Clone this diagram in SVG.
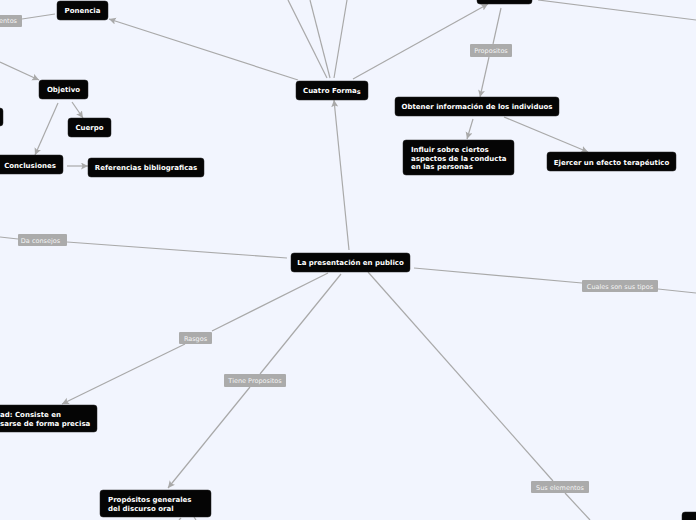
<svg xmlns="http://www.w3.org/2000/svg" width="696" height="520" viewBox="0 0 696 520">
<defs>
<style>
.bg{fill:#f2f5fe}
.n rect{fill:#050505;stroke:#222;stroke-width:0.5}
.n text{font-family:"DejaVu Sans",Verdana,sans-serif;font-size:7px;font-weight:bold;fill:#ffffff}
.c{text-anchor:middle}
.lb rect{fill:#ababab}
.lb text{font-family:"DejaVu Sans",Verdana,sans-serif;font-size:6.5px;fill:#f4f4f4;text-anchor:middle}
.e line{stroke:#a9a9a9;stroke-width:1.2;fill:none}
.a{marker-end:url(#ah)}
</style>
<marker id="ah" markerWidth="8" markerHeight="8" refX="7" refY="3.5" orient="auto" markerUnits="userSpaceOnUse">
<path d="M0,0 L7,3.5 L0,7 L1.5,3.5 z" fill="#a9a9a9"/>
</marker>
</defs>
<rect class="bg" x="0" y="0" width="696" height="520"/>
<g id="connectors" class="e">
<line class="a" x1="298" y1="80" x2="109" y2="19"/>
<line x1="55" y1="14" x2="22" y2="19"/>
<line class="a" x1="0" y1="62" x2="39" y2="80"/>
<line class="a" x1="72" y1="102" x2="83" y2="118"/>
<line class="a" x1="58" y1="103" x2="35" y2="155"/>
<line class="a" x1="67" y1="166" x2="88" y2="166"/>
<line x1="327" y1="78" x2="288" y2="0"/>
<line x1="330" y1="78" x2="310" y2="0"/>
<line x1="334" y1="78" x2="347" y2="0"/>
<line class="a" x1="353" y1="79" x2="488" y2="4"/>
<line x1="501" y1="8" x2="493" y2="44"/>
<line class="a" x1="489" y1="57" x2="480" y2="97"/>
<line x1="538" y1="0" x2="696" y2="20"/>
<line class="a" x1="473" y1="119" x2="467" y2="139"/>
<line class="a" x1="504" y1="117" x2="588" y2="152"/>
<line class="a" x1="349" y1="250" x2="334" y2="100"/>
<line x1="287" y1="258" x2="67" y2="242"/>
<line x1="18" y1="239" x2="0" y2="237"/>
<line x1="414" y1="268" x2="582" y2="283"/>
<line x1="658" y1="289" x2="696" y2="293"/>
<line x1="328" y1="273" x2="212" y2="331"/>
<line class="a" x1="185" y1="344" x2="62" y2="404"/>
<line x1="341" y1="274" x2="260" y2="374"/>
<line class="a" x1="250" y1="387" x2="168" y2="488"/>
<line x1="368" y1="272" x2="553" y2="481"/>
<line x1="565" y1="493" x2="590" y2="520"/>
<line x1="181" y1="518" x2="179" y2="520"/>
<line x1="194" y1="517" x2="196" y2="520"/>
</g>
<g id="lbl-entos" class="lb"><rect x="-6" y="15" width="28" height="12" rx="1"/><text x="17" y="23" style="text-anchor:end">entos</text></g>
<g id="lbl-propositos" class="lb"><rect x="470" y="44" width="42" height="13" rx="1"/><text x="491" y="53">Propositos</text></g>
<g id="lbl-daconsejos" class="lb"><rect x="18" y="234" width="49" height="12" rx="1"/><text x="40.5" y="242.5">Da consejos</text></g>
<g id="lbl-cuales" class="lb"><rect x="582" y="280" width="76" height="12" rx="1"/><text x="620" y="288.5">Cuales son sus tipos</text></g>
<g id="lbl-rasgos" class="lb"><rect x="179" y="332" width="33" height="12" rx="1"/><text x="195.5" y="340.5">Rasgos</text></g>
<g id="lbl-tiene" class="lb"><rect x="224" y="374" width="62" height="13" rx="1"/><text x="255" y="383">Tiene Propositos</text></g>
<g id="lbl-sus" class="lb"><rect x="531" y="481" width="58" height="12" rx="1"/><text x="560" y="489.5">Sus elementos</text></g>
<g id="n-ponencia" class="n"><rect x="57" y="1" width="51" height="19" rx="3"/><text class="c" x="82.5" y="13">Ponencia</text></g>
<g id="n-objetivo" class="n"><rect x="39" y="80" width="49" height="19" rx="3"/><text class="c" x="63.5" y="92">Objetivo</text></g>
<g id="n-cuerpo" class="n"><rect x="68" y="118" width="43" height="19" rx="3"/><text class="c" x="89.5" y="130">Cuerpo</text></g>
<g id="n-left" class="n"><rect x="-10" y="108" width="13" height="18" rx="3"/></g>
<g id="n-conclusiones" class="n"><rect x="-10" y="155" width="73" height="19" rx="3"/><text class="c" x="30" y="167.5">Conclusiones</text></g>
<g id="n-referencias" class="n"><rect x="88" y="158" width="116" height="19" rx="3"/><text class="c" x="146" y="170">Referencias bibliograficas</text></g>
<g id="n-cuatro" class="n"><rect x="296" y="81" width="72" height="19" rx="3"/><text x="303" y="93">Cuatro Forma<tspan dy="1.2" font-size="6.5">s</tspan></text></g>
<g id="n-top" class="n"><rect x="477" y="-15" width="55" height="19" rx="3"/></g>
<g id="n-obtener" class="n"><rect x="395" y="97" width="164" height="19" rx="3"/><text class="c" x="477" y="109">Obtener información de los individuos</text></g>
<g id="n-influir" class="n"><rect x="403" y="140" width="111" height="35" rx="3"/><text x="411" y="152">Influir sobre ciertos</text><text x="411" y="160.5">aspectos de la conducta</text><text x="411" y="169">en las personas</text></g>
<g id="n-ejercer" class="n"><rect x="547" y="152" width="129" height="19" rx="3"/><text class="c" x="611.5" y="164.5">Ejercer un efecto terapéutico</text></g>
<g id="n-presentacion" class="n"><rect x="291" y="253" width="119" height="19" rx="3"/><text class="c" x="350.5" y="265">La presentación en publico</text></g>
<g id="n-claridad" class="n"><rect x="-10" y="405" width="107" height="27" rx="3"/><text x="0" y="417">ad: Consiste en</text><text x="0" y="425.5">sarse de forma precisa</text></g>
<g id="n-propositos" class="n"><rect x="100" y="490" width="111" height="27" rx="3"/><text x="108" y="502">Propósitos generales</text><text x="108" y="510.5">del discurso oral</text></g>
<g id="n-bottomright" class="n"><rect x="682" y="512" width="30" height="20" rx="3"/></g>
</svg>
